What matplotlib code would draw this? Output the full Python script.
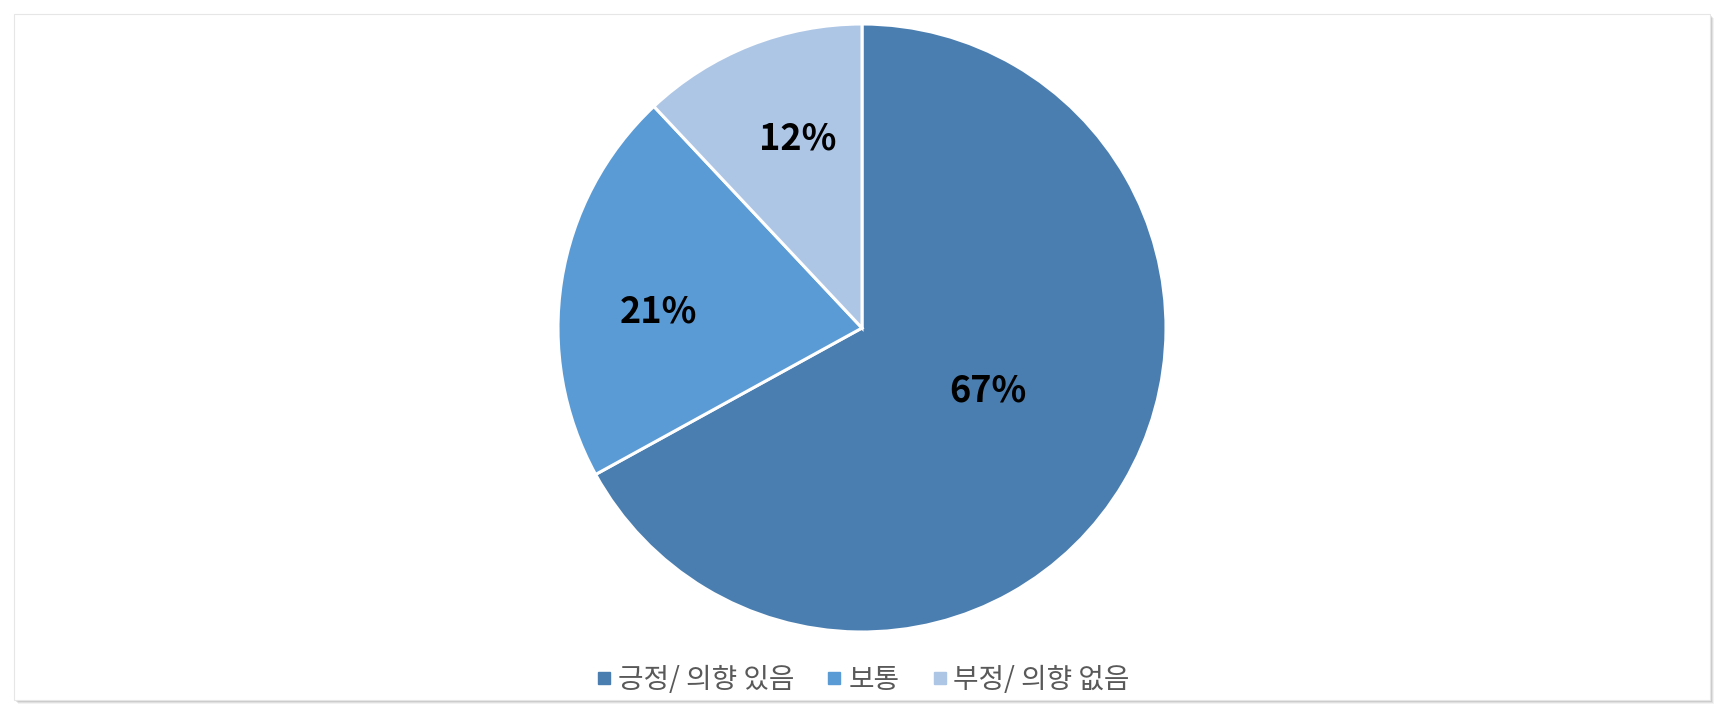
import matplotlib.pyplot as plt
import numpy as np
from matplotlib.lines import Line2D
from matplotlib.patches import FancyBboxPatch

plt.rcParams['font.family'] = ['Noto Sans CJK KR', 'DejaVu Sans']

labels = ["긍정/ 의향 있음", "보통", "부정/ 의향 없음"]
shares = [67, 21, 12]
colors = ["#4A7EB0", "#5B9BD5", "#ADC6E6"]
# where each percentage sits: fraction of radius, and a small angular nudge (deg)
label_dist = [0.464, 0.673, 0.657]
label_nudge = [4.1, 4.5, -2.9]

W, H = 1724, 714
fig = plt.figure(figsize=(W / 100, H / 100), dpi=100)
fig.patch.set_facecolor("white")

# card with a soft shadow
for off, a in [(4, 0.05), (3, 0.07), (2, 0.09)]:
    fig.patches.append(FancyBboxPatch(((14 + off) / W, (14 - off) / H), 1696 / W, 686 / H,
                                      boxstyle="square,pad=0", transform=fig.transFigure,
                                      facecolor="black", alpha=a, edgecolor="none", zorder=0))
fig.patches.append(FancyBboxPatch((14 / W, 14 / H), 1696 / W, 686 / H,
                                  boxstyle="square,pad=0", transform=fig.transFigure,
                                  facecolor="white", edgecolor="#e6e6e6", linewidth=0.8, zorder=1))

cx, cy, r = 862, 328, 304
ax = fig.add_axes([(cx - r) / W, (H - cy - r) / H, 2 * r / W, 2 * r / H])
ax.set_zorder(2)
wedges, _ = ax.pie(shares, colors=colors, startangle=90, counterclock=False,
                   radius=1, wedgeprops=dict(edgecolor="white", linewidth=2.2))
ax.set_xlim(-1, 1)
ax.set_ylim(-1, 1)
ax.set_aspect("equal")
ax.axis("off")

for w, v, d, n in zip(wedges, shares, label_dist, label_nudge):
    mid = np.deg2rad((w.theta1 + w.theta2) / 2 + n)
    ax.text(d * np.cos(mid), d * np.sin(mid), f"{v}%", ha="center", va="center",
            fontsize=26, fontweight="bold", color="black")

handles = [Line2D([], [], marker="s", linestyle="none", markersize=8,
                  markerfacecolor=c, markeredgecolor=c) for c in colors]
leg = fig.legend(handles, labels, loc="center", bbox_to_anchor=(0.5, 1 - 680 / H),
                 ncol=3, frameon=False, fontsize=20, handletextpad=0.15,
                 columnspacing=1.1, handlelength=0.7)
for t in leg.get_texts():
    t.set_color("#595959")

fig.savefig("out.png", dpi=100)
